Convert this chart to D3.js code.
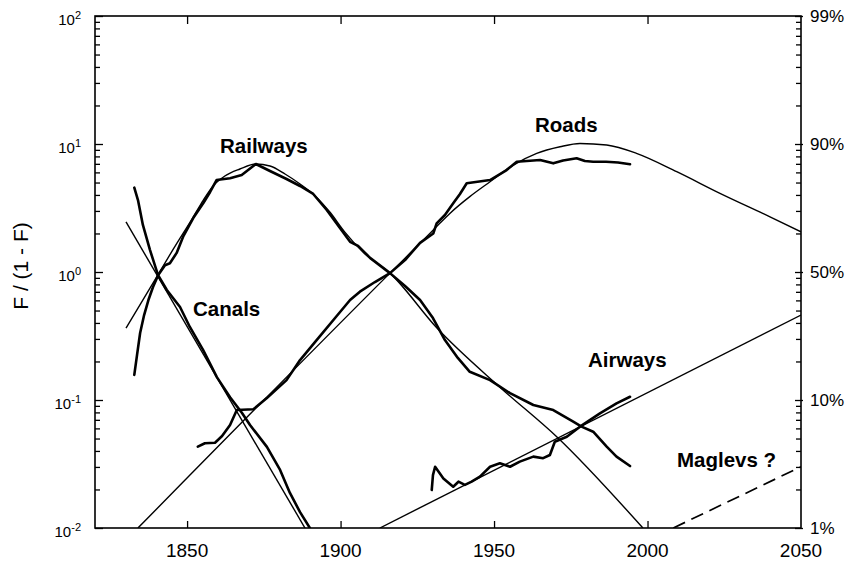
<!DOCTYPE html>
<html>
<head>
<meta charset="utf-8">
<script src="https://cdn.jsdelivr.net/npm/d3@7"></script>
<style>
  html, body { margin: 0; padding: 0; background: #fff; }
  svg { display: block; font-family: "Liberation Sans", Arial, sans-serif; }
</style>
</head>
<body>
<svg id="chart" width="853" height="562"></svg>
<script>
// ---------- data (year, F/(1-F)) ----------
const canalsData = [
  [1832.8, 4.56], [1834.0, 3.65], [1835.6, 2.33], [1837.9, 1.49], [1840.5, 0.948],
  [1843.4, 0.723], [1847.7, 0.533], [1850.9, 0.372], [1855.2, 0.246], [1859.7, 0.151],
  [1864.0, 0.105], [1867.9, 0.0791], [1870.5, 0.0638], [1876.0, 0.0430], [1880.3, 0.0284],
  [1883.5, 0.0188], [1886.8, 0.0133], [1890.0, 0.0100]
];
const canalsFit = [[1830.1, 2.46], [1888.4, 0.0100]];

const railwaysData = [
  [1832.8, 0.157], [1833.7, 0.225], [1834.7, 0.334], [1836.0, 0.461], [1837.4, 0.604],
  [1838.9, 0.764], [1840.6, 0.948], [1842.8, 1.13], [1844.4, 1.17], [1846.6, 1.41],
  [1848.8, 1.91], [1852.0, 2.64], [1855.3, 3.46], [1857.5, 4.22], [1859.6, 5.23],
  [1864.0, 5.40], [1867.8, 5.72], [1872.4, 6.98], [1877.0, 6.15], [1882.4, 5.33],
  [1886.8, 4.70], [1891.1, 4.07], [1895.5, 3.05], [1899.8, 2.21], [1903.1, 1.72],
  [1905.7, 1.60], [1909.6, 1.29], [1916.1, 0.98], [1921.0, 0.778], [1925.9, 0.604],
  [1930.1, 0.437], [1934.0, 0.294], [1938.2, 0.213], [1942.1, 0.166], [1948.7, 0.143],
  [1955.2, 0.113], [1962.8, 0.0914], [1969.3, 0.0835], [1975.8, 0.0677], [1978.5, 0.0619],
  [1982.3, 0.0565], [1986.7, 0.0432], [1989.9, 0.0361], [1994.3, 0.0305]
];
const railwaysFit = [
  [1830.1, 0.365], [1840.5, 0.948], [1845.5, 1.51], [1852.0, 2.69], [1855.3, 3.65],
  [1858.5, 4.70], [1862.3, 5.62], [1867.2, 6.38], [1872.4, 6.98], [1877.0, 6.73],
  [1881.9, 5.83], [1886.8, 4.87], [1891.7, 3.93], [1896.5, 2.94], [1901.4, 2.05],
  [1907.3, 1.43], [1916.1, 0.98], [1931.4, 0.365], [1951.9, 0.126], [1970.5, 0.0514],
  [1998.5, 0.0100]
];

const roadsData = [
  [1853.5, 0.0432], [1855.8, 0.0459], [1859.1, 0.0464], [1861.4, 0.0523], [1864.0, 0.0638],
  [1866.2, 0.0835], [1871.6, 0.0846], [1875.9, 0.103], [1882.4, 0.143], [1886.8, 0.205],
  [1892.2, 0.294], [1898.2, 0.437], [1903.1, 0.604], [1906.3, 0.702], [1911.2, 0.835],
  [1916.1, 0.98], [1921.0, 1.24], [1925.9, 1.69], [1930.2, 2.00], [1931.3, 2.40],
  [1934.0, 2.79], [1936.7, 3.44], [1938.9, 4.07], [1941.1, 4.93], [1948.7, 5.23],
  [1954.1, 6.26], [1957.4, 7.27], [1965.0, 7.50], [1969.3, 7.06], [1972.5, 7.43],
  [1976.9, 7.73], [1979.6, 7.36], [1982.3, 7.27], [1986.5, 7.27], [1990.4, 7.16],
  [1994.3, 6.94]
];
const roadsFit = [
  [1834.0, 0.0100], [1916.1, 0.98], [1925.9, 1.68], [1930.2, 2.13], [1935.6, 2.87],
  [1942.1, 3.88], [1948.7, 5.07], [1956.3, 6.85], [1963.9, 8.46], [1971.5, 9.52],
  [1978.0, 10.1], [1986.7, 9.82], [1996.4, 8.46], [2009.5, 6.08], [2023.6, 4.12],
  [2039.9, 2.70], [2050.0, 2.06]
];

const airwaysData = [
  [1929.7, 0.0198], [1930.1, 0.0259], [1930.8, 0.0301], [1933.5, 0.0244], [1936.7, 0.0210],
  [1938.4, 0.0230], [1940.5, 0.0217], [1942.7, 0.0230], [1945.4, 0.0252], [1948.7, 0.0301],
  [1951.9, 0.0320], [1955.2, 0.0301], [1958.4, 0.0330], [1962.8, 0.0361], [1966.0, 0.0351],
  [1968.2, 0.0372], [1969.8, 0.0472], [1973.7, 0.0516], [1978.0, 0.0619], [1984.5, 0.0787],
  [1989.9, 0.0942], [1994.3, 0.106]
];
const airwaysFit = [[1912.8, 0.0100], [2050.0, 0.461]];

const maglevsFit = [[2008.4, 0.0100], [2050.0, 0.0301]];

// ---------- ticks / labels ----------
const xTicks = [1850, 1900, 1950, 2000, 2050];
const yExponents = [2, 1, 0, -1, -2];
const rightLabels = ["99%", "90%", "50%", "10%", "1%"];
const seriesLabels = ["Railways", "Roads", "Canals", "Airways", "Maglevs ?"];
const yTitle = "F / (1 - F)";

// ---------- layout ----------
const L = 95, R = 801, T = 16, B = 528;
const svg = d3.select("#chart");

const x = d3.scaleLinear().domain([1820, 2050]).range([L, R]);
const y = d3.scaleLog().domain([0.01, 100]).range([B, T]);

// clip
svg.append("defs").append("clipPath").attr("id", "plotclip")
  .append("rect").attr("x", L).attr("y", T).attr("width", R - L).attr("height", B - T);

// minor ticks
const minorVals = [];
[-2, -1, 0, 1].forEach(e => { for (let k = 2; k <= 9; k++) minorVals.push(k * Math.pow(10, e)); });
const majorVals = yExponents.map(e => Math.pow(10, e));

function styleAxis(g) {
  g.select(".domain").remove();
  g.selectAll("line").attr("stroke", "#000").attr("stroke-width", 1.3);
  g.selectAll("text").remove();
}

svg.append("g").attr("transform", `translate(${L},0)`)
  .call(d3.axisLeft(y).tickValues(minorVals).tickSize(-5).tickFormat("")).call(styleAxis);
svg.append("g").attr("transform", `translate(${L},0)`)
  .call(d3.axisLeft(y).tickValues(majorVals).tickSize(-8).tickFormat("")).call(styleAxis);
svg.append("g").attr("transform", `translate(${R},0)`)
  .call(d3.axisRight(y).tickValues(minorVals).tickSize(-5).tickFormat("")).call(styleAxis);
svg.append("g").attr("transform", `translate(${R - 6},0)`)
  .call(d3.axisRight(y).tickValues(majorVals).tickSize(8).tickFormat("")).call(styleAxis);
svg.append("g").attr("transform", `translate(0,${B})`)
  .call(d3.axisBottom(x).tickValues(xTicks.slice(0, 4)).tickSize(-7).tickFormat("")).call(styleAxis);
svg.append("g").attr("transform", `translate(0,${T})`)
  .call(d3.axisTop(x).tickValues(xTicks.slice(0, 4)).tickSize(-8).tickFormat("")).call(styleAxis);

// frame
svg.append("rect").attr("x", L).attr("y", T).attr("width", R - L).attr("height", B - T)
  .attr("fill", "none").attr("stroke", "#000").attr("stroke-width", 1.6);

// bottom tick labels
svg.append("g").selectAll("text").data(xTicks).join("text")
  .attr("x", d => x(d)).attr("y", B + 29)
  .attr("text-anchor", "middle").attr("font-size", 19).attr("fill", "#000")
  .text(d => d);

// left tick labels 10^n
const lt = svg.append("g").selectAll("text").data(yExponents).join("text")
  .attr("x", 81).attr("y", d => y(Math.pow(10, d)) + 9)
  .attr("text-anchor", "end").attr("font-size", 15).attr("fill", "#000");
lt.append("tspan").text("10");
lt.append("tspan").attr("font-size", 11).attr("dy", -6).text(d => d < 0 ? "-" + (-d) : d);

// right tick labels
svg.append("g").selectAll("text").data(yExponents).join("text")
  .attr("x", R + 9).attr("y", d => y(Math.pow(10, d)) + 6)
  .attr("font-size", 17).attr("fill", "#000")
  .text((d, i) => rightLabels[i]);

// y title
svg.append("text").attr("transform", "translate(28,266) rotate(-90)")
  .attr("text-anchor", "middle").attr("font-size", 21).attr("fill", "#000").text(yTitle);

// lines
const plot = svg.append("g").attr("clip-path", "url(#plotclip)");
const lineLin = d3.line().x(d => x(d[0])).y(d => y(d[1]));
const lineSmooth = d3.line().x(d => x(d[0])).y(d => y(d[1])).curve(d3.curveMonotoneX);

const fits = [canalsFit, railwaysFit, roadsFit, airwaysFit];
fits.forEach(f => plot.append("path").attr("d", lineSmooth(f))
  .attr("fill", "none").attr("stroke", "#000").attr("stroke-width", 1.4));

plot.append("path").attr("d", lineLin(maglevsFit))
  .attr("fill", "none").attr("stroke", "#000").attr("stroke-width", 1.7)
  .attr("stroke-dasharray", "13,7");

const datas = [canalsData, railwaysData, roadsData, airwaysData];
datas.forEach(dd => plot.append("path").attr("d", lineLin(dd))
  .attr("fill", "none").attr("stroke", "#000").attr("stroke-width", 2.6)
  .attr("stroke-linejoin", "round").attr("stroke-linecap", "round"));

// series labels
const labelPos = [[220, 153], [535, 132], [193, 316], [588, 367], [677, 467]];
svg.append("g").selectAll("text").data(seriesLabels).join("text")
  .attr("x", (d, i) => labelPos[i][0]).attr("y", (d, i) => labelPos[i][1])
  .attr("font-size", 20.5).attr("font-weight", "bold").attr("fill", "#000")
  .text(d => d);
</script>
</body>
</html>
